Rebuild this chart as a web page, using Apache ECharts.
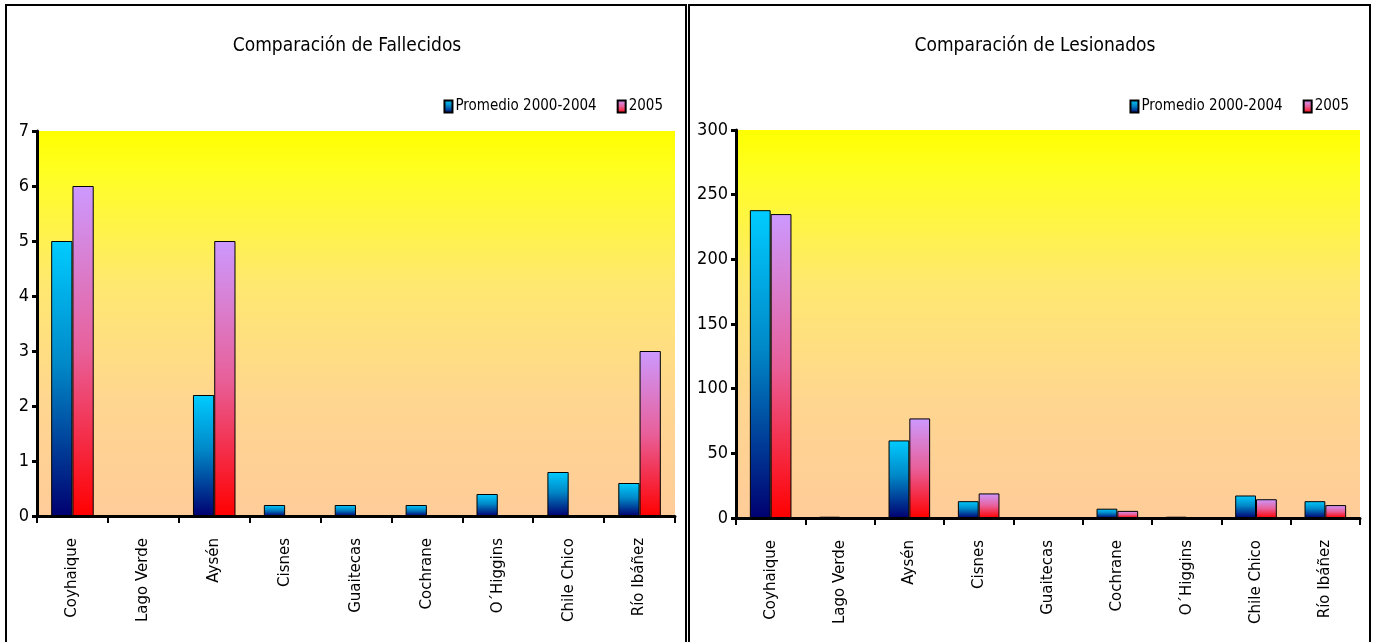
<!DOCTYPE html>
<html>
<head>
<meta charset="utf-8">
<script src="https://cdn.jsdelivr.net/npm/echarts@6/dist/echarts.min.js"></script>
<style>
html,body{margin:0;padding:0;background:#fff;}
#c{width:1377px;height:642px;}
</style>
</head>
<body>
<div id="c"></div>
<script>
const categories = ['Coyhaique','Lago Verde','Aysén','Cisnes','Guaitecas','Cochrane','O´Higgins','Chile Chico','Río Ibáñez'];
const seriesNames = ['Promedio 2000-2004','2005'];
const fallecidosProm = [5, 0, 2.2, 0.2, 0.2, 0.2, 0.4, 0.8, 0.6];
const fallecidos2005 = [6, 0, 5, 0, 0, 0, 0, 0, 3];
const lesionadosProm = [238, 1, 60, 13, 0, 7.2, 1, 17.4, 13];
const lesionados2005 = [235, 0, 77, 19, 0, 5.5, 0, 14.5, 10];
const titles = ['Comparación de Fallecidos','Comparación de Lesionados'];
const yMax = [7, 300];
const yInterval = [1, 50];

const narrow = '"Liberation Sans Narrow","Arial Narrow","DejaVu Sans Condensed",sans-serif';
const G = echarts.graphic.LinearGradient;
const blueGrad = new G(0,0,0,1,[{offset:0,color:'#00CCFF'},{offset:0.45,color:'#0088C8'},{offset:1,color:'#000070'}]);
const pinkGrad = new G(0,0,0,1,[{offset:0,color:'#CC99FF'},{offset:0.5,color:'#E8609A'},{offset:1,color:'#FF0000'}]);
const bgGrad = new G(0,0,0,1,[{offset:0,color:'#FFFF00'},{offset:0.1,color:'#FFFF20'},{offset:0.4,color:'#FFE870'},{offset:0.7,color:'#FFD690'},{offset:1,color:'#FFCC99'}]);

const grids = [
  {left:37, top:131, width:638, height:385},
  {left:736, top:130, width:624, height:388}
];
const panelCenters = [342, 1030];
const legendRights = [1377-668, 1377-1354];

const option = {
  animation:false,
  backgroundColor:'#fff',
  title: titles.map((t,i)=>({
    text:t, left:panelCenters[i], top:32, textAlign:'center',
    textStyle:{fontFamily:narrow, fontSize:19, fontWeight:'normal', color:'#000'}
  })),
  legend: [0,1].map(i=>({
    data:seriesNames, right:legendRights[i], top:94, itemWidth:8, itemHeight:12, itemGap:20,
    icon:'rect',
    textStyle:{fontFamily:narrow, fontSize:15, color:'#000', padding:[0,0,0,-2]},
    seriesIndex:[i*2, i*2+1]
  })),
  grid: grids.map(g=>Object.assign({show:true, backgroundColor:bgGrad, borderWidth:0}, g)),
  xAxis: [0,1].map(i=>({
    type:'category', gridIndex:i, data:categories,
    axisLine:{lineStyle:{color:'#000', width:3}},
    axisTick:{show:true, length:7, lineStyle:{color:'#000', width:2}},
    axisLabel:{rotate:90, margin:22, interval:0, fontFamily:'"DejaVu Sans",sans-serif', fontSize:15, color:'#000'}
  })),
  yAxis: [0,1].map(i=>({
    type:'value', gridIndex:i, min:0, max:yMax[i], interval:yInterval[i],
    splitLine:{show:false},
    axisLine:{show:true, lineStyle:{color:'#000', width:3}},
    axisTick:{show:true, length:5, lineStyle:{color:'#000', width:3}},
    axisLabel:{fontFamily:narrow, fontSize:18, color:'#000', margin:8}
  })),
  graphic:[
    {type:'rect', shape:{x:6, y:5, width:680, height:660}, style:{fill:'none', stroke:'#000', lineWidth:2}, z:100},
    {type:'rect', shape:{x:689, y:5, width:681, height:660}, style:{fill:'none', stroke:'#000', lineWidth:2}, z:100}
  ],
  series: []
};
const dataSets = [[fallecidosProm, fallecidos2005],[lesionadosProm, lesionados2005]];
[0,1].forEach(i=>{
  [0,1].forEach(j=>{
    option.series.push({
      type:'bar', name:seriesNames[j], xAxisIndex:i, yAxisIndex:i,
      data:dataSets[i][j], barGap:'0%', barCategoryGap:'40%',
      itemStyle:{color: j===0?blueGrad:pinkGrad, borderColor:'#000', borderWidth:1}
    });
  });
});
const chart = echarts.init(document.getElementById('c'), null, {renderer:'canvas'});
chart.setOption(option);
</script>
</body>
</html>
